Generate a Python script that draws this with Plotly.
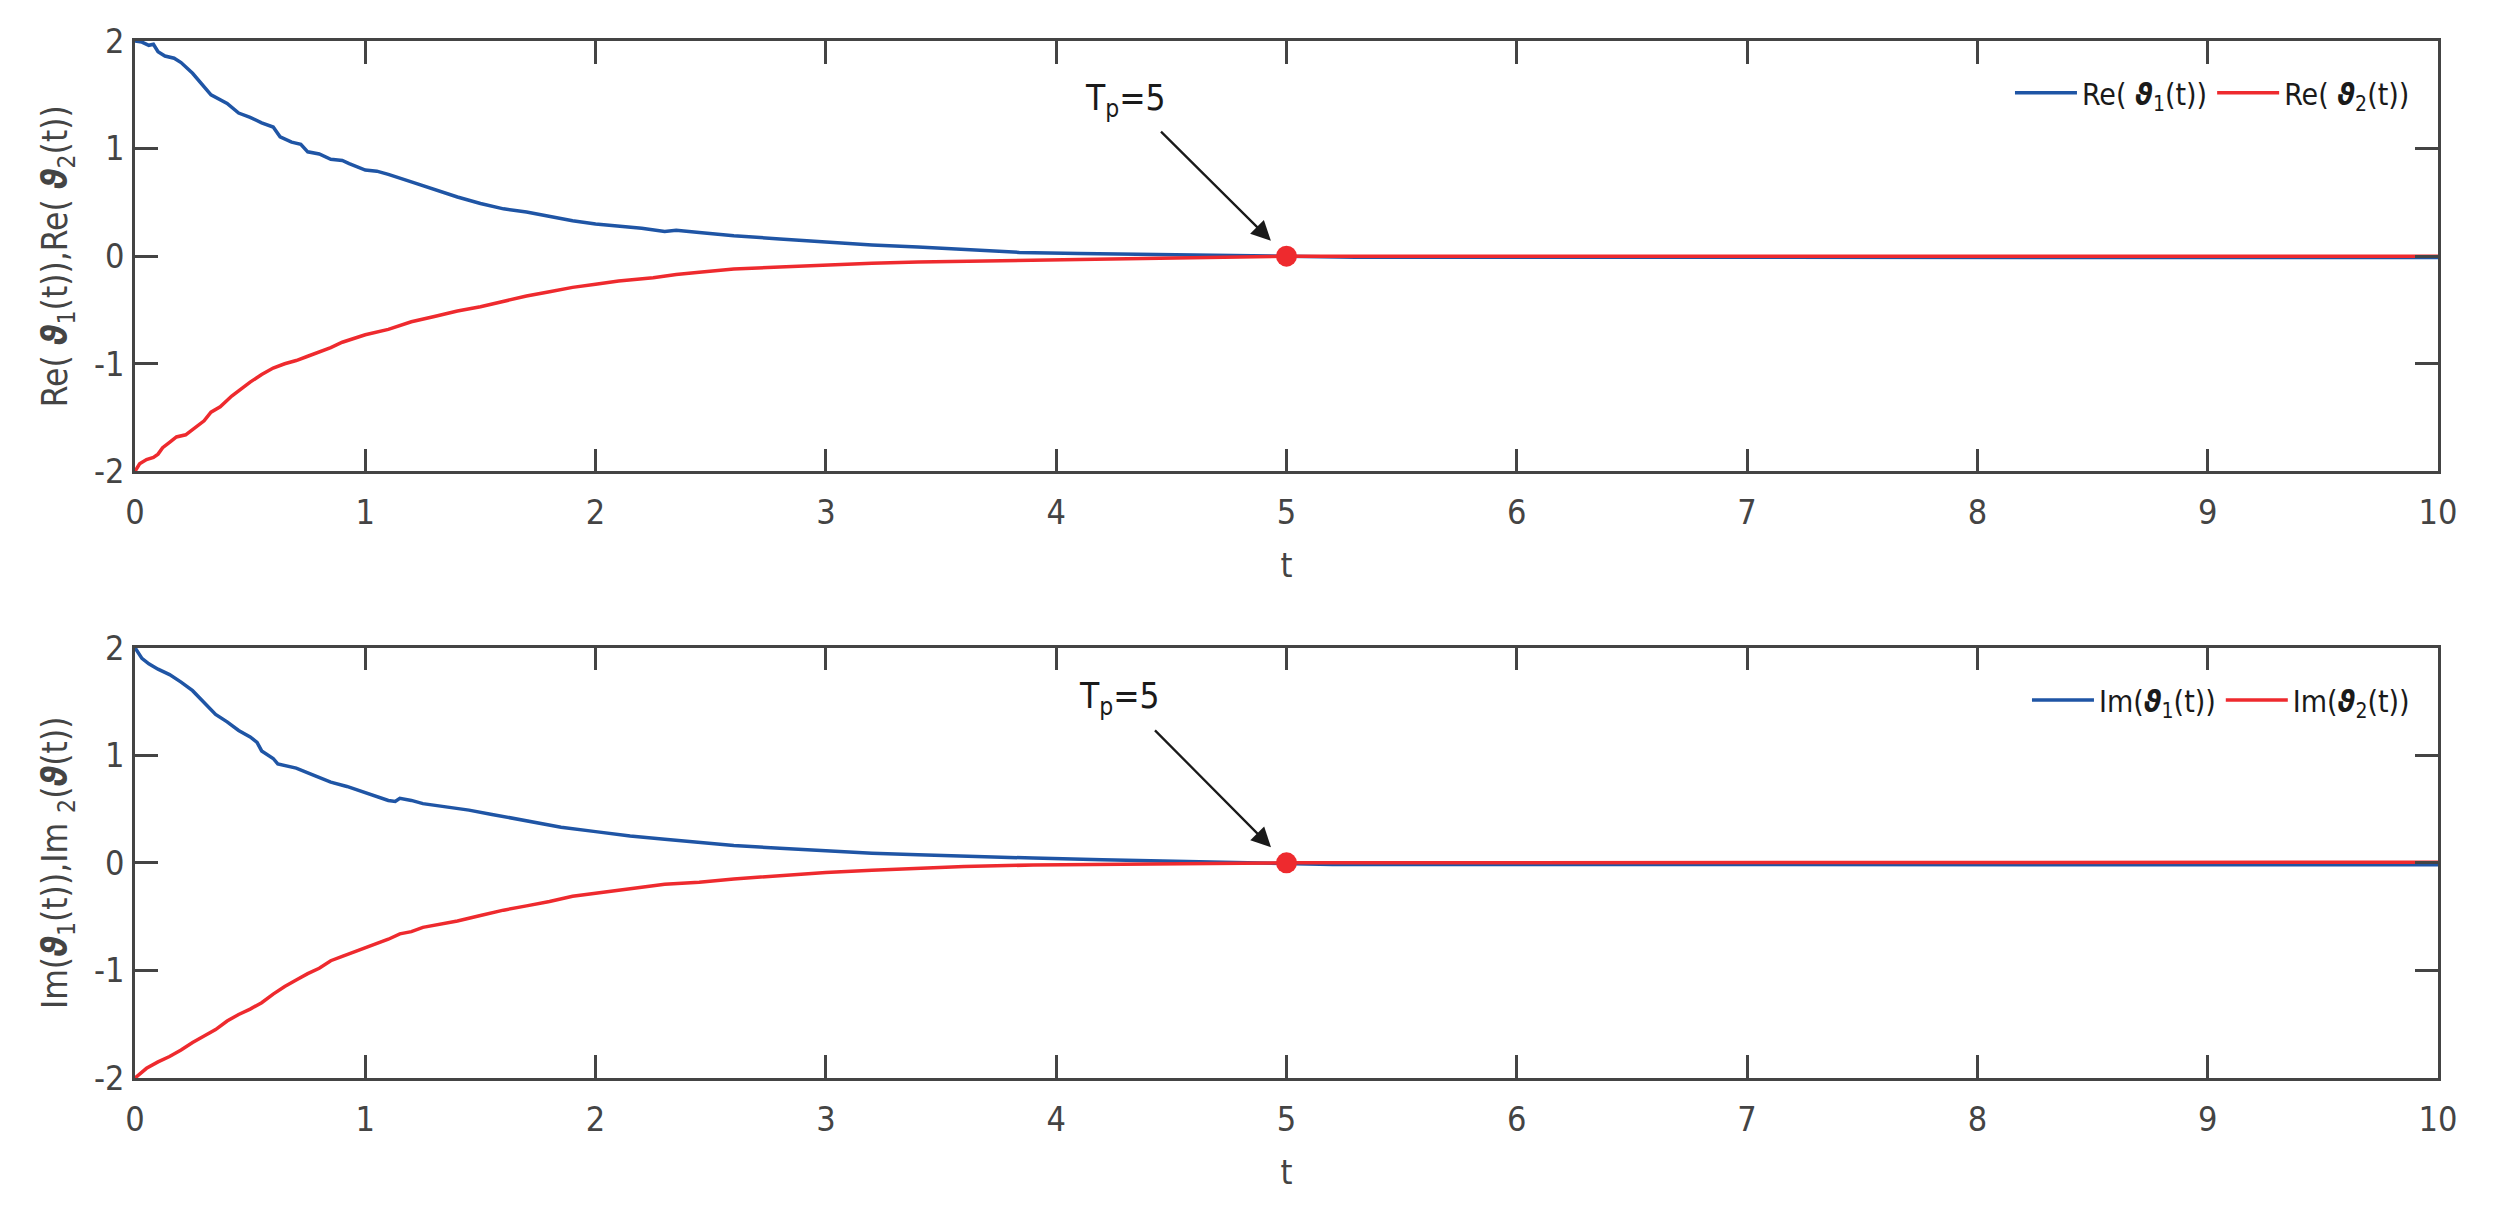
import plotly.graph_objects as go

# ---- data ----
# upper panel: real parts
RE1_T = [0, 0.03, 0.06, 0.08, 0.1, 0.13, 0.17, 0.2, 0.25, 0.3, 0.33, 0.4, 0.45, 0.5, 0.55,
         0.6, 0.63, 0.68, 0.72, 0.75, 0.8, 0.85, 0.9, 0.93, 1.0, 1.05, 1.1, 1.2, 1.3, 1.4,
         1.5, 1.6, 1.7, 1.8, 1.9, 2.0, 2.1, 2.2, 2.3, 2.35, 2.45, 2.6, 2.8, 3.0, 3.2, 3.4,
         3.6, 3.84, 4.1, 4.4, 4.7, 4.9, 5.0, 5.3, 10]
RE1_V = [2.0, 1.99, 1.96, 1.97, 1.90, 1.86, 1.84, 1.80, 1.70, 1.57, 1.50, 1.42, 1.33, 1.29, 1.24,
         1.20, 1.11, 1.06, 1.04, 0.97, 0.95, 0.90, 0.89, 0.86, 0.80, 0.79, 0.76, 0.69, 0.62, 0.55,
         0.49, 0.44, 0.41, 0.37, 0.33, 0.30, 0.28, 0.26, 0.23, 0.24, 0.22, 0.19, 0.16, 0.13, 0.105, 0.085,
         0.06, 0.035, 0.025, 0.016, 0.007, 0.002, 0.0, -0.01, -0.012]

RE2_T = [0, 0.02, 0.05, 0.08, 0.1, 0.12, 0.15, 0.18, 0.22, 0.25, 0.28, 0.3, 0.33, 0.37, 0.42,
         0.5, 0.55, 0.6, 0.65, 0.7, 0.75, 0.8, 0.85, 0.9, 1.0, 1.1, 1.2, 1.3, 1.4, 1.5,
         1.6, 1.7, 1.8, 1.9, 2.0, 2.1, 2.25, 2.35, 2.45, 2.6, 2.8, 3.0, 3.2, 3.4, 3.6,
         3.84, 4.1, 4.45, 4.7, 5.0, 10]
RE2_V = [-2.0, -1.93, -1.89, -1.87, -1.84, -1.78, -1.73, -1.68, -1.66, -1.61, -1.57, -1.53, -1.45, -1.40, -1.30,
         -1.17, -1.10, -1.04, -1.00, -0.97, -0.93, -0.89, -0.85, -0.80, -0.73, -0.68, -0.61, -0.56, -0.51, -0.47,
         -0.42, -0.37, -0.33, -0.29, -0.26, -0.23, -0.20, -0.17, -0.15, -0.12, -0.10, -0.08, -0.065, -0.055, -0.05,
         -0.044, -0.03, -0.02, -0.01, 0.0, 0.0]

# lower panel: imaginary parts
IM1_T = [0, 0.03, 0.06, 0.1, 0.15, 0.2, 0.25, 0.3, 0.35, 0.4, 0.45, 0.5, 0.53, 0.55, 0.6,
         0.62, 0.7, 0.78, 0.85, 0.92, 1.0, 1.05, 1.1, 1.13, 1.15, 1.2, 1.25, 1.35, 1.45, 1.55,
         1.65, 1.75, 1.85, 2.0, 2.15, 2.3, 2.45, 2.6, 2.8, 3.0, 3.2, 3.4, 3.6, 3.9, 4.2,
         4.45, 4.7, 5.0, 5.2, 10]
IM1_V = [2.0, 1.90, 1.85, 1.80, 1.75, 1.68, 1.60, 1.49, 1.38, 1.31, 1.23, 1.17, 1.12, 1.04, 0.97,
         0.92, 0.88, 0.81, 0.75, 0.71, 0.65, 0.62, 0.58, 0.57, 0.60, 0.58, 0.55, 0.52, 0.49, 0.45,
         0.41, 0.37, 0.33, 0.29, 0.25, 0.22, 0.19, 0.16, 0.135, 0.11, 0.09, 0.075, 0.06, 0.044, 0.028,
         0.019, 0.01, 0.0, -0.015, -0.018]

IM2_T = [0, 0.05, 0.1, 0.15, 0.2, 0.25, 0.3, 0.35, 0.4, 0.45, 0.5, 0.55, 0.6, 0.65, 0.7,
         0.75, 0.8, 0.85, 0.9, 0.95, 1.0, 1.05, 1.1, 1.15, 1.2, 1.25, 1.3, 1.4, 1.5, 1.6,
         1.7, 1.8, 1.9, 2.0, 2.15, 2.3, 2.45, 2.6, 2.8, 3.0, 3.2, 3.4, 3.6, 3.9, 4.2,
         4.5, 5.0, 10]
IM2_V = [-2.0, -1.91, -1.85, -1.80, -1.74, -1.67, -1.61, -1.55, -1.47, -1.41, -1.36, -1.30, -1.22, -1.15, -1.09,
         -1.03, -0.98, -0.91, -0.87, -0.83, -0.79, -0.75, -0.71, -0.66, -0.64, -0.60, -0.58, -0.54, -0.49, -0.44,
         -0.40, -0.36, -0.31, -0.28, -0.24, -0.20, -0.18, -0.15, -0.12, -0.09, -0.07, -0.05, -0.035, -0.02, -0.013,
         -0.005, 0.0, 0.005]

TP_T = [5]
TP_V = [0]

X_TICKS = list(range(0, 11))
Y_TICKS = [-2, -1, 0, 1, 2]
Y_TICK_TEXT = ["-2", "-1", "0", "1", "2"]

BLUE = "#1f55a5"
RED = "#ee2a2e"
AXIS_GREY = "#444444"
FONT = "Liberation Sans Narrow, DejaVu Sans Condensed, Liberation Sans, sans-serif"
TH = "<b><i>\u03d1</i></b>"

fig = go.Figure()

fig.add_trace(go.Scatter(x=RE1_T, y=RE1_V, mode="lines", line=dict(color=BLUE, width=3.5),
                         name=f"Re( {TH}<sub>1</sub>(t))", xaxis="x", yaxis="y", legend="legend"))
fig.add_trace(go.Scatter(x=RE2_T, y=RE2_V, mode="lines", line=dict(color=RED, width=3.5),
                         name=f"Re( {TH}<sub>2</sub>(t))", xaxis="x", yaxis="y", legend="legend"))
fig.add_trace(go.Scatter(x=TP_T, y=TP_V, mode="markers", marker=dict(color=RED, size=21),
                         showlegend=False, xaxis="x", yaxis="y"))

fig.add_trace(go.Scatter(x=IM1_T, y=IM1_V, mode="lines", line=dict(color=BLUE, width=3.5),
                         name=f"Im({TH}<sub>1</sub>(t))", xaxis="x2", yaxis="y2", legend="legend2"))
fig.add_trace(go.Scatter(x=IM2_T, y=IM2_V, mode="lines", line=dict(color=RED, width=3.5),
                         name=f"Im({TH}<sub>2</sub>(t))", xaxis="x2", yaxis="y2", legend="legend2"))
fig.add_trace(go.Scatter(x=TP_T, y=TP_V, mode="markers", marker=dict(color=RED, size=21),
                         showlegend=False, xaxis="x2", yaxis="y2"))

axis_common = dict(
    showline=True, linecolor=AXIS_GREY, linewidth=2.5, mirror="ticks",
    ticks="inside", ticklen=23, tickwidth=2.5, tickcolor=AXIS_GREY,
    showgrid=False, zeroline=False,
    tickfont=dict(family=FONT, size=34, color=AXIS_GREY),
)

xaxis_cfg = dict(axis_common, range=[0, 10], tickvals=X_TICKS, ticklabelstandoff=9,
                 title=dict(text="t", font=dict(family=FONT, size=34, color=AXIS_GREY), standoff=23))

ytitle_font = dict(family=FONT, size=35, color=AXIS_GREY)
legend_font = dict(family=FONT, size=30, color="#1a1a1a")

# the page body adds an 8 px margin, so the figure is 16 px smaller than the window
fig.update_layout(
    width=2477, height=1197,
    margin=dict(l=127, r=47, t=33, b=127),
    paper_bgcolor="white", plot_bgcolor="white",
    font=dict(family=FONT, color="#1a1a1a"),
    xaxis=dict(xaxis_cfg, domain=[0, 1], anchor="y"),
    yaxis=dict(axis_common, domain=[0.585, 1], anchor="x", range=[-2, 2],
               tickvals=Y_TICKS, ticktext=Y_TICK_TEXT, ticklabelstandoff=1,
               title=dict(text=f"Re( {TH}<sub>1</sub>(t)),Re( {TH}<sub>2</sub>(t))",
                          font=ytitle_font, standoff=16)),
    xaxis2=dict(xaxis_cfg, domain=[0, 1], anchor="y2"),
    yaxis2=dict(axis_common, domain=[0, 0.415], anchor="x2", range=[-2, 2],
                tickvals=Y_TICKS, ticktext=Y_TICK_TEXT, ticklabelstandoff=1,
                title=dict(text=f"Im({TH}<sub>1</sub>(t)),Im <sub>2</sub>({TH}(t))",
                           font=ytitle_font, standoff=16)),
    legend=dict(orientation="h", x=0.99, xanchor="right", y=0.95, yanchor="middle",
                itemwidth=62, bgcolor="rgba(0,0,0,0)", font=legend_font),
    legend2=dict(orientation="h", x=0.99, xanchor="right", y=0.3645, yanchor="middle",
                 itemwidth=62, bgcolor="rgba(0,0,0,0)", font=legend_font),
)

# T_p annotations with arrows pointing at the convergence point
ANNOT = [("x", "y", -127, -126, -204, 180), ("x2", "y2", -133, -134, -210, 189)]
for xr, yr, ax, ay, xs, ys in ANNOT:
    fig.add_annotation(x=TP_T[0], y=TP_V[0], xref=xr, yref=yr, text="",
                       showarrow=True, arrowhead=2, arrowsize=1.7, arrowwidth=2.3,
                       arrowcolor="#1a1a1a", ax=ax, ay=ay, standoff=22)
    fig.add_annotation(x=TP_T[0], y=TP_V[0], xref=xr, yref=yr, text="T<sub>p</sub>=5",
                       showarrow=False, xanchor="left", yanchor="top", xshift=xs, yshift=ys,
                       font=dict(family=FONT, size=35, color="#1a1a1a"))

fig.write_html("out.html")
